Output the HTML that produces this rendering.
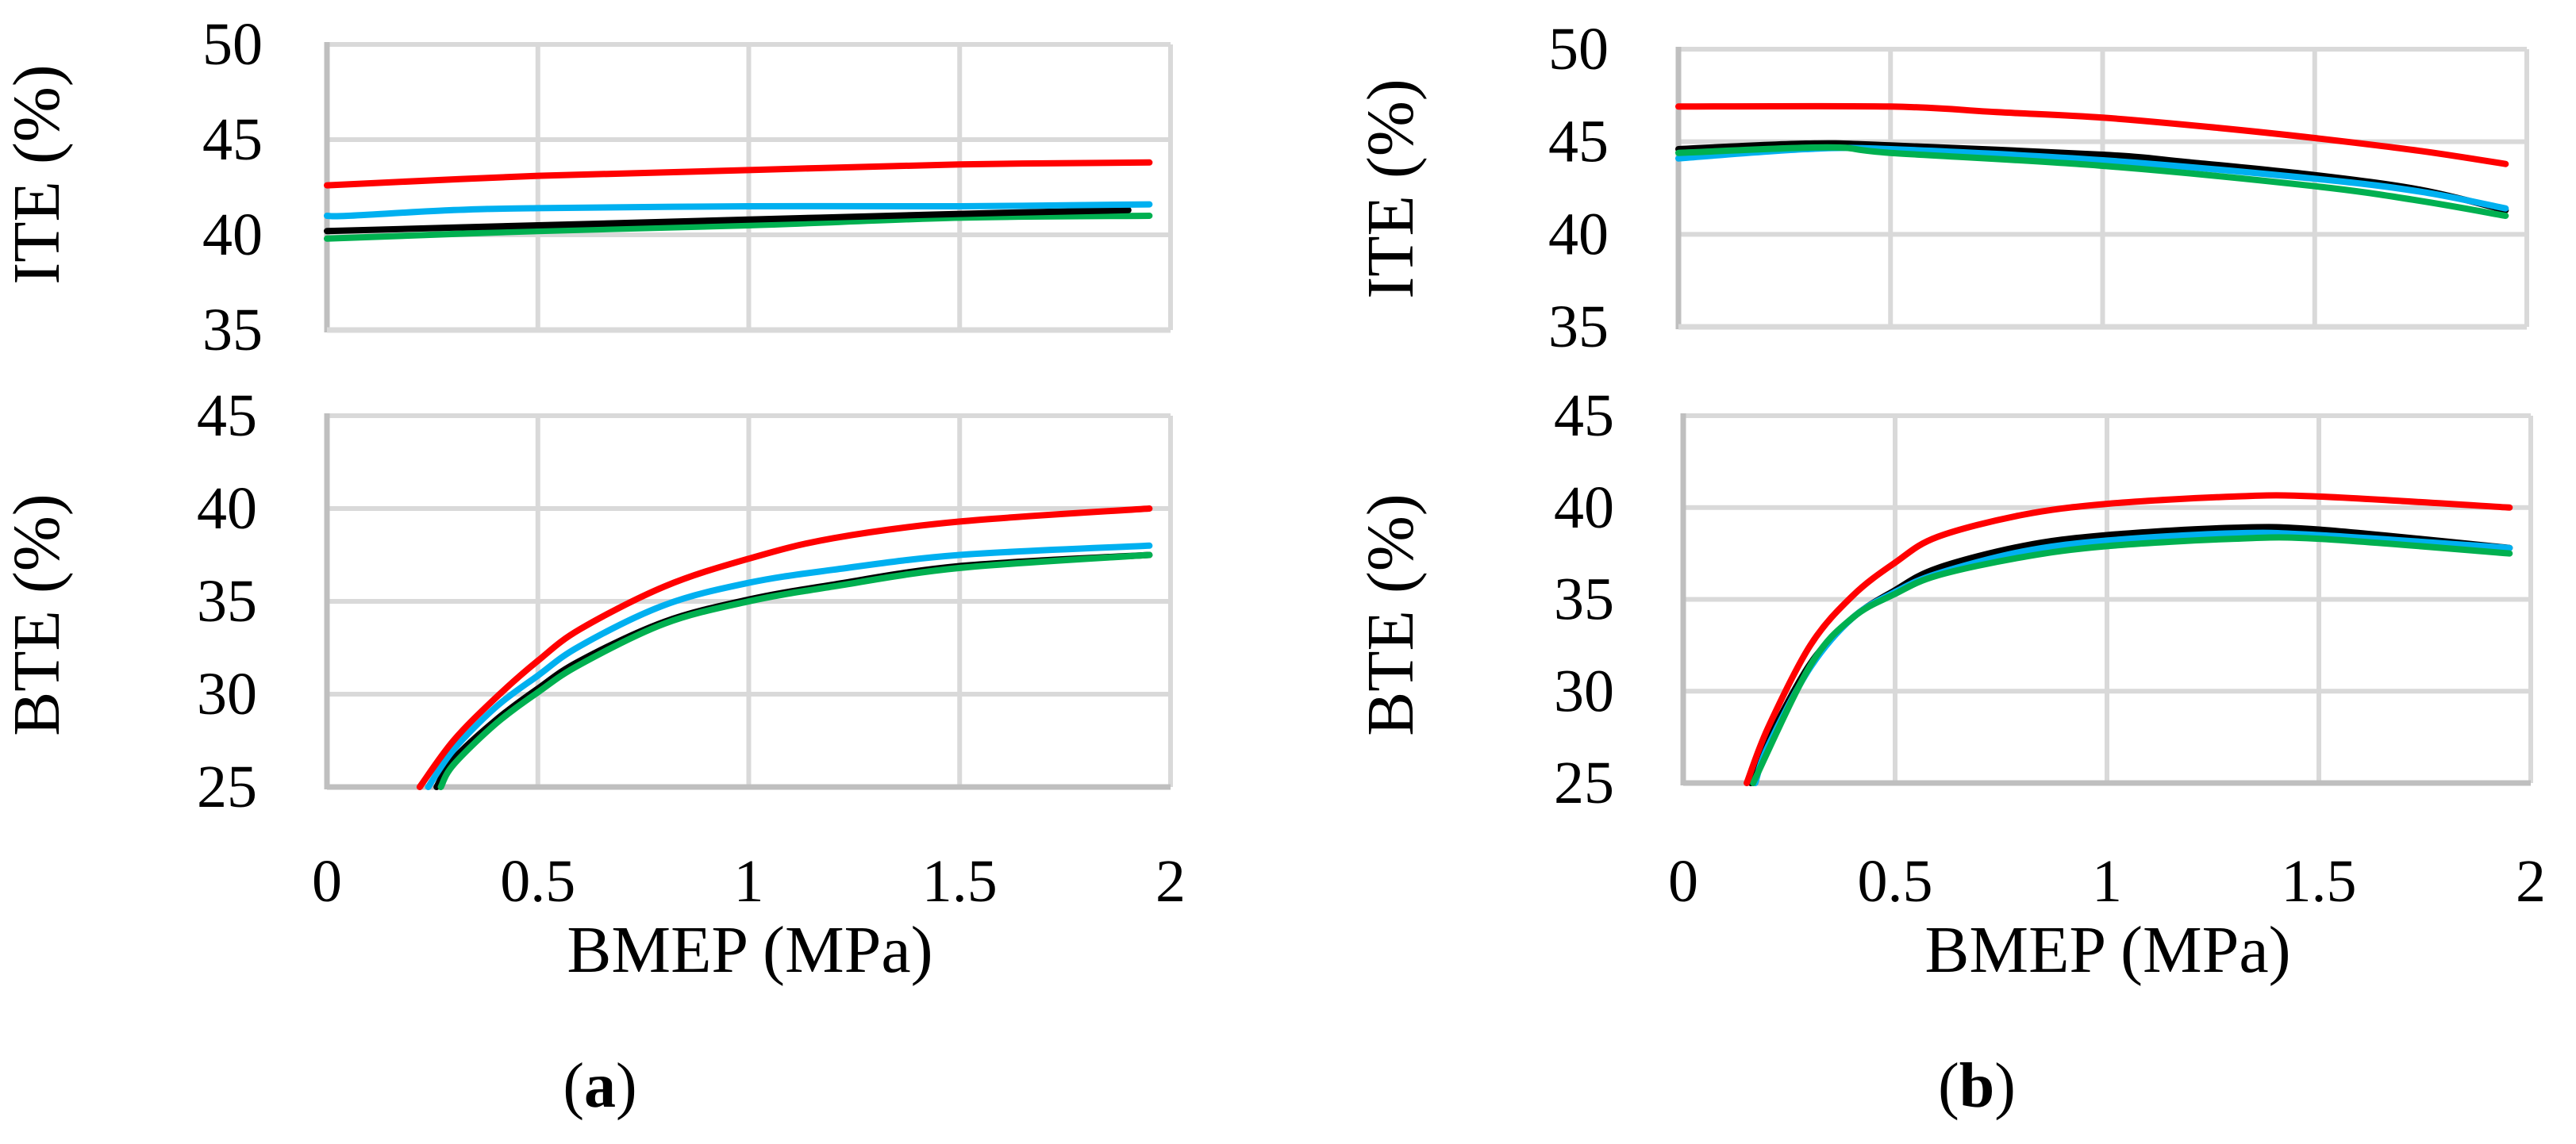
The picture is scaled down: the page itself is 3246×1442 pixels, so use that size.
<!DOCTYPE html>
<html><head><meta charset="utf-8"><style>
html,body{margin:0;padding:0;background:#fff;}
svg{display:block;font-family:"Liberation Serif",serif;}
</style></head><body>
<svg id="fig" width="3246" height="1442" viewBox="0 0 3246 1442" xmlns="http://www.w3.org/2000/svg">
<text x="0" y="0" transform="translate(74,220) rotate(-90)" font-size="84" text-anchor="middle">ITE (%)</text>
<text x="0" y="0" transform="translate(74,775) rotate(-90)" font-size="84" text-anchor="middle">BTE (%)</text>
<text x="945" y="1225" font-size="84" text-anchor="middle">BMEP (MPa)</text>
<text x="756" y="1395" font-size="80" text-anchor="middle">(<tspan font-weight="bold">a</tspan>)</text>
<text x="0" y="0" transform="translate(1780,238) rotate(-90)" font-size="84" text-anchor="middle">ITE (%)</text>
<text x="0" y="0" transform="translate(1780,775) rotate(-90)" font-size="84" text-anchor="middle">BTE (%)</text>
<text x="2656" y="1225" font-size="84" text-anchor="middle">BMEP (MPa)</text>
<text x="2491" y="1395" font-size="80" text-anchor="middle">(<tspan font-weight="bold">b</tspan>)</text>
</svg>
<script>
const xTicks = [0, 0.5, 1, 1.5, 2];
const xTickLabels = ["0", "0.5", "1", "1.5", "2"];
const iteTicks = [35, 40, 45, 50];
const bteTicks = [25, 30, 35, 40, 45];
const seriesNames = ["black", "blue", "green", "red"];

// Panel (a) ITE
const aIteBlackX = [0, 0.5, 1, 1.5, 1.9];
const aIteBlackY = [40.2, 40.5, 40.8, 41.1, 41.3];
const aIteBlueX = [0, 0.05, 0.3, 0.5, 1, 1.5, 1.95];
const aIteBlueY = [41.0, 41.0, 41.3, 41.4, 41.5, 41.5, 41.6];
const aIteGreenX = [0, 0.5, 1, 1.5, 1.95];
const aIteGreenY = [39.8, 40.2, 40.5, 40.9, 41.0];
const aIteRedX = [0, 0.5, 1, 1.5, 1.95];
const aIteRedY = [42.6, 43.1, 43.4, 43.7, 43.8];
// Panel (a) BTE
const aBteBlackX = [0.26, 0.3, 0.4, 0.5, 0.6, 0.8, 1.0, 1.2, 1.5, 1.95];
const aBteBlackY = [25, 26.5, 28.6, 30.3, 31.8, 33.9, 35.1, 35.9, 36.9, 37.5];
const aBteBlueX = [0.24, 0.3, 0.4, 0.5, 0.6, 0.8, 1.0, 1.2, 1.5, 1.95];
const aBteBlueY = [25, 27, 29.3, 31, 32.6, 34.8, 36, 36.7, 37.5, 38.0];
const aBteGreenX = [0.27, 0.3, 0.4, 0.5, 0.6, 0.8, 1.0, 1.2, 1.5, 1.95];
const aBteGreenY = [25, 26.2, 28.4, 30.1, 31.6, 33.8, 35.0, 35.8, 36.8, 37.5];
const aBteRedX = [0.22, 0.3, 0.4, 0.5, 0.6, 0.8, 1.0, 1.2, 1.5, 1.95];
const aBteRedY = [25, 27.5, 29.8, 31.8, 33.5, 35.8, 37.3, 38.4, 39.3, 40.0];
// Panel (b) ITE
const bIteBlackX = [0, 0.3, 0.5, 1, 1.2, 1.5, 1.75, 1.95];
const bIteBlackY = [44.6, 44.9, 44.8, 44.3, 43.9, 43.2, 42.4, 41.3];
const bIteBlueX = [0, 0.3, 0.5, 1, 1.5, 1.75, 1.95];
const bIteBlueY = [44.1, 44.6, 44.6, 44.0, 43.0, 42.3, 41.4];
const bIteGreenX = [0, 0.35, 0.5, 1, 1.5, 1.75, 1.95];
const bIteGreenY = [44.4, 44.7, 44.4, 43.7, 42.6, 41.8, 41.0];
const bIteRedX = [0, 0.5, 0.75, 1, 1.25, 1.5, 1.75, 1.95];
const bIteRedY = [46.9, 46.9, 46.6, 46.3, 45.8, 45.2, 44.5, 43.8];
// Panel (b) BTE
const bBteBlackX = [0.16, 0.2, 0.3, 0.4, 0.5, 0.6, 0.8, 1.0, 1.3, 1.5, 1.95];
const bBteBlackY = [25, 27.3, 31.5, 34, 35.5, 36.7, 37.9, 38.5, 38.9, 38.8, 37.8];
const bBteBlueX = [0.17, 0.2, 0.3, 0.4, 0.5, 0.6, 0.8, 1.0, 1.3, 1.5, 1.95];
const bBteBlueY = [25, 27, 31.3, 34, 35.4, 36.4, 37.6, 38.2, 38.6, 38.5, 37.8];
const bBteGreenX = [0.165, 0.3, 0.4, 0.5, 0.6, 0.8, 1.0, 1.3, 1.5, 1.95];
const bBteGreenY = [25, 31.4, 34, 35.3, 36.3, 37.3, 37.9, 38.3, 38.3, 37.5];
const bBteRedX = [0.15, 0.2, 0.3, 0.4, 0.5, 0.6, 0.8, 1.0, 1.3, 1.5, 1.95];
const bBteRedY = [25, 28, 32.5, 35.2, 37, 38.4, 39.6, 40.2, 40.6, 40.6, 40.0];

const NS = "http://www.w3.org/2000/svg";
const svg = document.getElementById("fig");
const colors = {black:"#000000", blue:"#00B0F0", green:"#00B050", red:"#FF0000"};

function mk(tag, attrs){const e=document.createElementNS(NS,tag);for(const k in attrs)e.setAttribute(k,attrs[k]);return e;}

function smoothPath(pts){
  let d="M"+pts[0][0].toFixed(1)+","+pts[0][1].toFixed(1);
  for(let i=0;i<pts.length-1;i++){
    const p0=pts[i-1]||pts[i],p1=pts[i],p2=pts[i+1],p3=pts[i+2]||p2;
    const c1=[p1[0]+(p2[0]-p0[0])/6,p1[1]+(p2[1]-p0[1])/6];
    const c2=[p2[0]-(p3[0]-p1[0])/6,p2[1]-(p3[1]-p1[1])/6];
    d+=" C"+c1[0].toFixed(1)+","+c1[1].toFixed(1)+" "+c2[0].toFixed(1)+","+c2[1].toFixed(1)+" "+p2[0].toFixed(1)+","+p2[1].toFixed(1);
  }
  return d;
}

function panel(id, x0, x1, yTop, yBot, yMin, yMax, yTicks, labelRight, series){
  const sx=v=>x0+(v-0)/(2-0)*(x1-x0);
  const sy=v=>yBot-(v-yMin)/(yMax-yMin)*(yBot-yTop);
  const g=mk("g",{});
  
  
  svg.appendChild(g);
  yTicks.forEach((t,i)=>{
    const l=mk("line",{x1:x0,x2:x1,y1:sy(t),y2:sy(t),stroke:"#D9D9D9","stroke-width":6});
    
    
    g.appendChild(l);
    const tx=mk("text",{x:labelRight,y:sy(t)+25,"font-size":76,"text-anchor":"end"});
    tx.textContent=String(t);
    
    
    g.appendChild(tx);
  });
  xTicks.forEach(t=>{
    if(t===0)return;
    const l=mk("line",{x1:sx(t),x2:sx(t),y1:yTop,y2:yBot,stroke:"#D9D9D9","stroke-width":6});
    
    
    g.appendChild(l);
  });
  const ax=mk("line",{x1:x0,x2:x0,y1:yTop-3,y2:yBot+3,stroke:"#BFBFBF","stroke-width":7});
  
  
  g.appendChild(ax);
  const bx=mk("line",{x1:x0,x2:x1,y1:yBot,y2:yBot,stroke:id.indexOf("bte")>=0?"#BFBFBF":"#D9D9D9","stroke-width":7});
  
  
  g.appendChild(bx);
  const clipId=id+"-clip";
  const cp=mk("clipPath",{id:clipId});
  cp.appendChild(mk("rect",{x:x0-10,y:yTop-10,width:x1-x0+20,height:yBot-yTop+14}));
  g.appendChild(cp);
  series.forEach(s=>{
    const pts=s.x.map((v,i)=>[sx(v),sy(s.y[i])]);
    const p=mk("path",{d:smoothPath(pts),fill:"none",stroke:colors[s.name],"stroke-width":8,"stroke-linecap":"round","stroke-linejoin":"round","clip-path":"url(#"+clipId+")"});
    
    
    g.appendChild(p);
  });
  return sx;
}

function xLabels(id, sx, y){
  xTicks.forEach((t,i)=>{
    const tx=mk("text",{x:sx(t),y:y,"font-size":76,"text-anchor":"middle"});
    tx.textContent=xTickLabels[i];
    
    
    svg.appendChild(tx);
  });
}

panel("ite-a",412,1475,56,416,35,50,iteTicks,331,[
  {name:"green",x:aIteGreenX,y:aIteGreenY},{name:"black",x:aIteBlackX,y:aIteBlackY},
  {name:"blue",x:aIteBlueX,y:aIteBlueY},{name:"red",x:aIteRedX,y:aIteRedY}]);
const sxa=panel("bte-a",412,1475,524,992,25,45,bteTicks,324,[
  {name:"black",x:aBteBlackX,y:aBteBlackY},{name:"green",x:aBteGreenX,y:aBteGreenY},
  {name:"blue",x:aBteBlueX,y:aBteBlueY},{name:"red",x:aBteRedX,y:aBteRedY}]);
xLabels("a",sxa,1136);
panel("ite-b",2115,3184,62,412,35,50,iteTicks,2027,[
  {name:"black",x:bIteBlackX,y:bIteBlackY},{name:"blue",x:bIteBlueX,y:bIteBlueY},
  {name:"green",x:bIteGreenX,y:bIteGreenY},{name:"red",x:bIteRedX,y:bIteRedY}]);
const sxb=panel("bte-b",2121,3189,524,987,25,45,bteTicks,2034,[
  {name:"black",x:bBteBlackX,y:bBteBlackY},{name:"blue",x:bBteBlueX,y:bBteBlueY},
  {name:"green",x:bBteGreenX,y:bBteGreenY},{name:"red",x:bBteRedX,y:bBteRedY}]);
xLabels("b",sxb,1136);
</script>
</body></html>
